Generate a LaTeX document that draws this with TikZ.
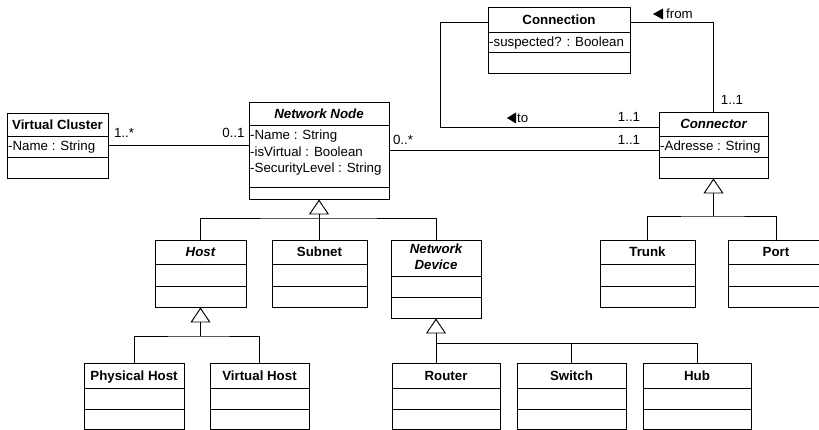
\documentclass[tikz,border=0pt]{standalone}
\usepackage{fontspec}
\setmainfont{Liberation Sans}
\usetikzlibrary{arrows.meta}
\tikzset{
 box/.style={draw, line width=0.95pt, inner sep=0pt},
 div/.style={line width=0.95pt},
 ttl/.style={font=\bfseries\fontsize{13.3}{16}\selectfont, inner sep=0pt, text height=9.5pt, text depth=0pt},
 ttli/.style={font=\bfseries\itshape\fontsize{13.3}{16}\selectfont, inner sep=0pt, text height=9.5pt, text depth=0pt},
 attr/.style={font=\fontsize{13.3}{16}\selectfont, inner xsep=1pt, inner ysep=0pt, anchor=base west},
 lbl/.style={font=\fontsize{13.3}{16}\selectfont, inner sep=0pt, text height=9.5pt, text depth=0pt},
 link/.style={line width=0.8pt},
 gen/.style={link, -{Triangle[open, length=15pt, width=20pt, line width=0.95pt]}},
}
\newcommand\umlcls[7]{%
 \node[box, minimum width={(#4-#2)*1pt}, minimum height={(#5-#3)*1pt}] (#1) at ({(#2+#4)/2},{(#3+#5)/2}) {};
 \draw[div] (#2,#6) -- (#4,#6);
 \draw[div] (#2,#7) -- (#4,#7);
}
\begin{document}
\begin{tikzpicture}[x=1pt,y=-1pt]
\useasboundingbox (0,0) rectangle (819,430);
\clip (0,0) rectangle (819,430);
% classes
\umlcls{vc}{7}{113}{108}{178}{136}{157}
\node[ttl] (vc-t) at (57.5,124.5) {Virtual Cluster};
\node[attr] (vc-a1) at (7,151) {-Name : String};

\umlcls{nn}{249}{102}{389}{199}{125}{187}
\node[ttli] (nn-t) at (319,113.5) {Network Node};
\node[attr] (nn-a1) at (249,140) {-Name : String};
\node[attr] (nn-a2) at (249,156.5) {-isVirtual : Boolean};
\node[attr] (nn-a3) at (249,173) {-SecurityLevel : String};

\umlcls{cn}{488}{7}{630}{73}{32}{52}
\node[ttl] (cn-t) at (559,19.5) {Connection};
\node[attr] (cn-a1) at (488,47) {-suspected? : Boolean};

\umlcls{con}{659}{112}{768}{178}{136}{157}
\node[ttli] (con-t) at (713.5,124) {Connector};
\node[attr] (con-a1) at (659,151) {-Adresse : String};

\umlcls{host}{155}{240}{246}{307}{264}{286}
\node[ttli] (host-t) at (200.5,252) {Host};
\umlcls{subnet}{272}{240}{367}{307}{264}{286}
\node[ttl] (subnet-t) at (319.5,252) {Subnet};
\umlcls{nd}{391}{240}{481}{318}{276}{297}
\node[ttli] (nd-t1) at (436,249) {Network};
\node[ttli] (nd-t2) at (436,265) {Device};
\umlcls{trunk}{600}{240}{695}{307}{264}{286}
\node[ttl] (trunk-t) at (647.5,252) {Trunk};
\umlcls{port}{728}{240}{824}{307}{264}{286}
\node[ttl] (port-t) at (776,252) {Port};

\umlcls{ph}{84}{363}{184}{429.5}{388}{409}
\node[ttl] (ph-t) at (134,375.5) {Physical Host};
\umlcls{vh}{210}{363}{309}{429.5}{388}{409}
\node[ttl] (vh-t) at (259.5,375.5) {Virtual Host};
\umlcls{router}{392}{363}{500}{429.5}{388}{409}
\node[ttl] (router-t) at (446,375.5) {Router};
\umlcls{switch}{517}{363}{626}{429.5}{388}{409}
\node[ttl] (switch-t) at (571.5,375.5) {Switch};
\umlcls{hub}{643}{363}{751}{429.5}{388}{409}
\node[ttl] (hub-t) at (697,375.5) {Hub};

% generalizations
\coordinate (j1) at (319,218);
\draw[gen] (j1) -- (nn.south);
\draw[link] (host.north) |- (j1) -| (nd.north);
\draw[link] (subnet.north) -- (subnet.north |- j1);

\coordinate (j2) at (200.5,336);
\draw[gen] (j2) -- (host.south);
\draw[link] (ph.north) |- (j2) -| (vh.north);

\coordinate (j3) at (436,343);
\draw[gen] (j3) -- (nd.south);
\draw[link] (j3) -| (hub.north);
\draw[link] (j3) -- (j3 |- router.north);
\draw[link] (switch.north) -- (switch.north |- j3);

\coordinate (j4) at (713.5,216);
\draw[gen] (j4) -- (con.south);
\draw[link] (trunk.north) |- (j4) -| (port.north);

% associations
\draw[link] (vc.east) -- (vc.east -| nn.west);
\draw[link] (nn.east) -- (nn.east -| con.west);
\draw[link] ([yshift=-16pt]cn.north west) -- ++(-47,0) |- ([yshift=-16pt]con.north west);
\draw[link] ([yshift=-16pt]cn.north east) -| (con.north);

% labels
\node[lbl] (m1) at (124,133) {1..*};
\node[lbl] (m2) at (233.5,133) {0..1};
\node[lbl] (m3) at (403,140) {0..*};
\node[lbl] (m4) at (629,117) {1..1};
\node[lbl] (m5) at (629,140) {1..1};
\node[lbl] (m6) at (732,100) {1..1};
\fill (653,14) -- (663,8.5) -- (663,19.5) -- cycle;
\node[lbl, anchor=west] (lf) at (666,14) {from};
\fill (507,118) -- (516,112.5) -- (516,123.5) -- cycle;
\node[lbl, anchor=west] (lt) at (517,118) {to};
\end{tikzpicture}
\end{document}
